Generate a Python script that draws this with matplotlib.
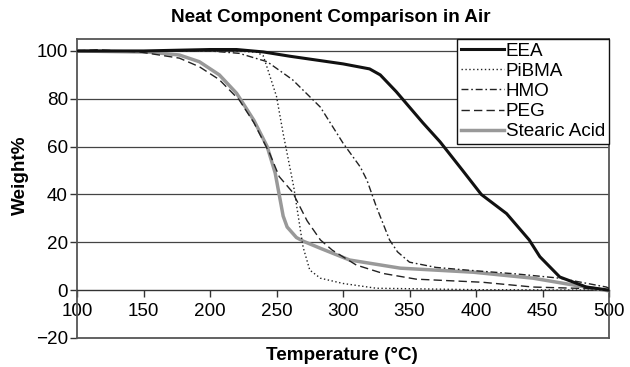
import matplotlib
matplotlib.use("Agg")
import matplotlib.pyplot as plt

plt.rcParams['font.family'] = ['Liberation Sans', 'DejaVu Sans']

eea_t = [100, 150, 200, 220, 240, 260, 280, 300, 320, 328, 340, 360, 373, 390, 404, 423, 440, 448, 463, 483, 500]
eea_w = [100, 100, 100.6, 100.6, 99.6, 97.8, 96.2, 94.6, 92.5, 90, 83, 70, 62, 50, 40, 32, 21, 14, 5.5, 1.3, 0]

pibma_t = [100, 150, 200, 225, 235, 240, 243, 250, 255, 260, 263, 268, 270, 275, 283, 300, 325, 400, 500]
pibma_w = [100, 100, 100, 99.8, 99.5, 98, 93, 81, 65.5, 51.5, 43, 25, 18, 8.4, 5, 2.8, 0.8, 0.2, 0]

hmo_t = [100, 150, 200, 222, 243, 262, 283, 300, 313, 318, 325, 335, 341, 350, 370, 393, 430, 463, 498, 500]
hmo_w = [100, 100, 100, 99, 95.5, 88, 76.5, 61.5, 51.5, 46, 35, 21, 16, 11.7, 9.5, 8.4, 6.8, 5, 1.3, 0.8]

peg_t = [100, 115, 147, 177, 192, 207, 222, 233, 245, 252, 262, 273, 283, 292, 310, 330, 355, 405, 443, 500]
peg_w = [100, 100.5, 99.6, 97, 93.4, 88, 79.5, 70, 57, 47.5, 41, 29, 21, 16.7, 10.5, 7, 4.6, 3.3, 1.3, 0.4]

sa_t = [100, 155, 177, 192, 207, 220, 233, 243, 249, 252, 255, 258, 265, 270, 283, 305, 343, 398, 443, 478, 500]
sa_w = [100, 99.5, 98.3, 95.5, 90, 82.3, 71, 60, 49, 40, 31, 26.4, 22, 20.5, 17.5, 12.6, 9.2, 7.5, 5, 1.7, -0.3]

x_ticks = [100, 150, 200, 250, 300, 350, 400, 450, 500]
y_ticks = [-20, 0, 20, 40, 60, 80, 100]

FS = 13.6

fig = plt.figure(figsize=(6.3, 3.67), dpi=100)
ax = fig.add_axes([77/630, 1-338/367, (609-77)/630, (338-39)/367])

ax.set_xlim(100, 500)
ax.set_ylim(-20, 105)

for y in [20, 40, 60, 80, 100]:
    ax.axhline(y, color='#444444', lw=0.9, zorder=1)

ax.plot(eea_t, eea_w, color='#111111', lw=2.2, label='EEA', zorder=5)
ax.plot(pibma_t, pibma_w, color='#222222', lw=1.0, ls=(0, (1, 1.8)), label='PiBMA', zorder=4)
ax.plot(hmo_t, hmo_w, color='#222222', lw=1.0, ls=(0, (5, 2, 1.2, 2)), label='HMO', zorder=4)
ax.plot(peg_t, peg_w, color='#222222', lw=1.0, ls=(0, (6, 3)), label='PEG', zorder=4)
ax.plot(sa_t, sa_w, color='#999999', lw=2.5, label='Stearic Acid', zorder=3)

ax.spines['bottom'].set_position(('data', 0))
ax.spines['bottom'].set_color('#333333')
ax.spines['bottom'].set_linewidth(1.0)
for s in ['left', 'right', 'top']:
    ax.spines[s].set_color('#555555')
    ax.spines[s].set_linewidth(1.3)
ax.axhline(-20, color='#555555', lw=1.3, clip_on=False, zorder=6)

ax.set_xticks(x_ticks)
ax.set_yticks(y_ticks)
ax.set_xticklabels([str(v) for v in x_ticks])
ax.set_yticklabels(['\u221220'] + [str(v) for v in y_ticks[1:]])
ax.tick_params(axis='x', direction='out', length=5, width=1, color='#333333',
               labelsize=FS, pad=4)
ax.tick_params(axis='y', direction='out', length=5, width=1, color='#333333',
               labelsize=FS, pad=1.5)

leg = ax.legend(loc='upper right', fontsize=FS, frameon=True, fancybox=False,
                edgecolor='#111111', framealpha=1, handlelength=2.3,
                handletextpad=0.1, labelspacing=0.15, borderpad=0.2,
                borderaxespad=0.0)
leg.get_frame().set_linewidth(1.0)

fig.text(331/630, 1-17/367, 'Neat Component Comparison in Air', ha='center',
         va='center', fontsize=FS, fontweight='bold')
fig.text(342/630, 1-355/367, 'Temperature (\u00b0C)', ha='center', va='center',
         fontsize=FS, fontweight='bold')
fig.text(20/630, 1-175/367, 'Weight%', ha='center', va='center',
         rotation=90, fontsize=FS, fontweight='bold')

fig.savefig('out.png', dpi=100)
